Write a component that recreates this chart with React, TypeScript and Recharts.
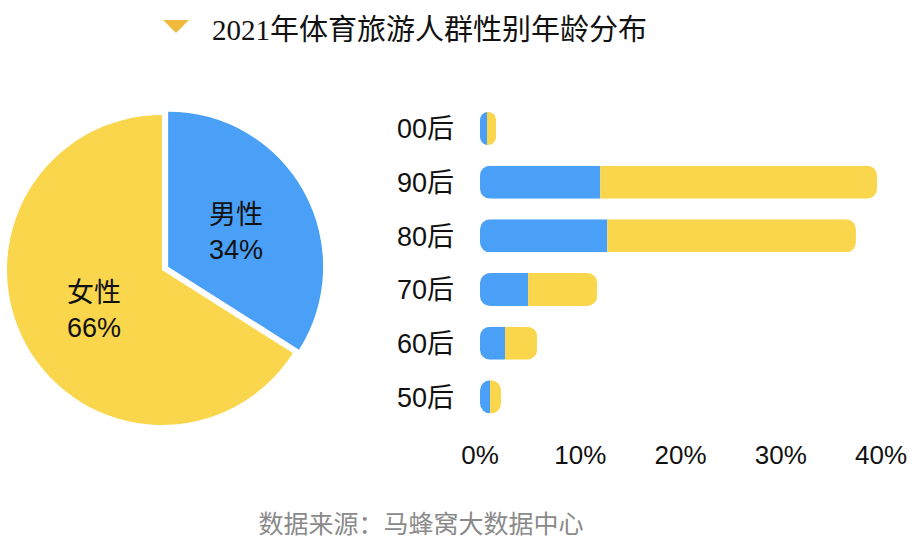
import { Bar, BarChart, Cell, Pie, PieChart, XAxis, YAxis } from 'recharts'

const genders = ['男性', '女性']
const genderShares = [34, 66]

const ageGroups = ['00后', '90后', '80后', '70后', '60后', '50后']
const maleShares = [0.7, 12.0, 12.7, 4.8, 2.5, 1.0]
const femaleShares = [0.9, 27.6, 24.8, 6.9, 3.2, 1.1]
const xTicks = [0, 10, 20, 30, 40]

const BLUE = '#4AA0F6'
const YELLOW = '#F9D64C'
const SANS = "'Liberation Sans', 'Noto Sans CJK SC', sans-serif"

const pieData = genders.map((name, i) => ({ name, value: genderShares[i] }))
const barData = ageGroups.map((age, i) => ({
  age,
  male: maleShares[i],
  female: femaleShares[i],
}))

const RADIAN = Math.PI / 180
const PIE_R = 155
const EXPLODE = 7

// male slice is pulled out a bit along its middle angle
const maleMid = 90 - (360 * genderShares[0]) / (genderShares[0] + genderShares[1]) / 2
const pieCx = 162
const pieCy = 170

// draws one stacked segment as a piece of the whole rounded bar
const makeSegment = (part: 'male' | 'female') => (props: any) => {
  const { x, y, width, height, fill, payload, index } = props
  const val = part === 'male' ? payload.male : payload.female
  if (!val || !width) return <g />
  const ppu = width / val
  const totalW = (payload.male + payload.female) * ppu
  const pillX = part === 'male' ? x : x - payload.male * ppu
  const r = Math.min(10, totalW / 2)
  const id = `clip-${part}-${index}`
  return (
    <g>
      <defs>
        <clipPath id={id}>
          <rect x={x} y={y} width={width} height={height} />
        </clipPath>
      </defs>
      <rect
        x={pillX}
        y={y}
        width={totalW}
        height={height}
        rx={r}
        ry={r}
        fill={fill}
        clipPath={`url(#${id})`}
      />
    </g>
  )
}

const makeLabel = (showIndex: number) => (props: any) => {
  const { cx, cy, midAngle, outerRadius, index, name, value } = props
  if (index !== showIndex) return null
  const r = outerRadius * 0.5
  const lx = cx + r * Math.cos(-midAngle * RADIAN)
  const ly = cy + r * Math.sin(-midAngle * RADIAN) + 3
  return (
    <text
      x={lx}
      y={ly}
      textAnchor="middle"
      fill="#111"
      fontSize={27}
      fontFamily={SANS}
    >
      <tspan x={lx} dy={-17.5} dominantBaseline="central">
        {name}
      </tspan>
      <tspan x={lx} dy={35} dominantBaseline="central">
        {`${value}%`}
      </tspan>
    </text>
  )
}

export default function App() {
  return (
    <div
      style={{
        position: 'absolute',
        left: 0,
        top: 0,
        width: 914,
        height: 552,
        background: '#fff',
      }}
    >
      <svg
        width={914}
        height={552}
        style={{ position: 'absolute', left: 0, top: 0 }}
      >
        <polygon points="163,20 189,20 176,33" fill="#F0BA3C" />
        <text
          x={212}
          y={30}
          fontSize={29}
          fill="#111"
          dominantBaseline="central"
          fontFamily="'Liberation Serif', 'Noto Sans CJK SC', serif"
        >
          2021年体育旅游人群性别年龄分布
        </text>
        <text
          x={421}
          y={524}
          fontSize={25}
          fill="#8a8a8a"
          textAnchor="middle"
          dominantBaseline="central"
          fontFamily={SANS}
        >
          数据来源：马蜂窝大数据中心
        </text>
      </svg>

      <div style={{ position: 'absolute', left: 0, top: 100 }}>
        <PieChart
          width={340}
          height={340}
          margin={{ top: 0, right: 0, bottom: 0, left: 0 }}
        >
          <Pie
            data={pieData}
            dataKey="value"
            nameKey="name"
            cx={pieCx}
            cy={pieCy}
            outerRadius={PIE_R}
            startAngle={90}
            endAngle={-270}
            label={makeLabel(1)}
            labelLine={false}
            isAnimationActive={false}
          >
            <Cell fill="none" stroke="none" />
            <Cell fill={YELLOW} stroke="none" />
          </Pie>
          <Pie
            data={pieData}
            dataKey="value"
            nameKey="name"
            cx={pieCx + EXPLODE * Math.cos(maleMid * RADIAN)}
            cy={pieCy - EXPLODE * Math.sin(maleMid * RADIAN)}
            outerRadius={PIE_R}
            startAngle={90}
            endAngle={-270}
            label={makeLabel(0)}
            labelLine={false}
            isAnimationActive={false}
          >
            <Cell fill={BLUE} stroke="none" />
            <Cell fill="none" stroke="none" />
          </Pie>
        </PieChart>
      </div>

      <div style={{ position: 'absolute', left: 380, top: 90 }}>
        <BarChart
          width={534}
          height={394}
          data={barData}
          layout="vertical"
          margin={{ top: 12, right: 33, bottom: 0, left: 0 }}
        >
          <XAxis
            type="number"
            domain={[0, 40]}
            ticks={xTicks}
            tickFormatter={(v) => `${v}%`}
            axisLine={false}
            tickLine={false}
            tickSize={0}
            tickMargin={22}
            height={60}
            interval={0}
            tick={{ fill: '#111', fontSize: 26, fontFamily: SANS }}
          />
          <YAxis
            type="category"
            dataKey="age"
            width={100}
            axisLine={false}
            tickLine={false}
            tickSize={0}
            tickMargin={26}
            interval={0}
            tick={{ fill: '#111', fontSize: 27, fontFamily: SANS }}
          />
          <Bar
            dataKey="male"
            stackId="a"
            fill={BLUE}
            barSize={33}
            shape={makeSegment('male')}
            isAnimationActive={false}
          />
          <Bar
            dataKey="female"
            stackId="a"
            fill={YELLOW}
            barSize={33}
            shape={makeSegment('female')}
            isAnimationActive={false}
          />
        </BarChart>
      </div>
    </div>
  )
}
